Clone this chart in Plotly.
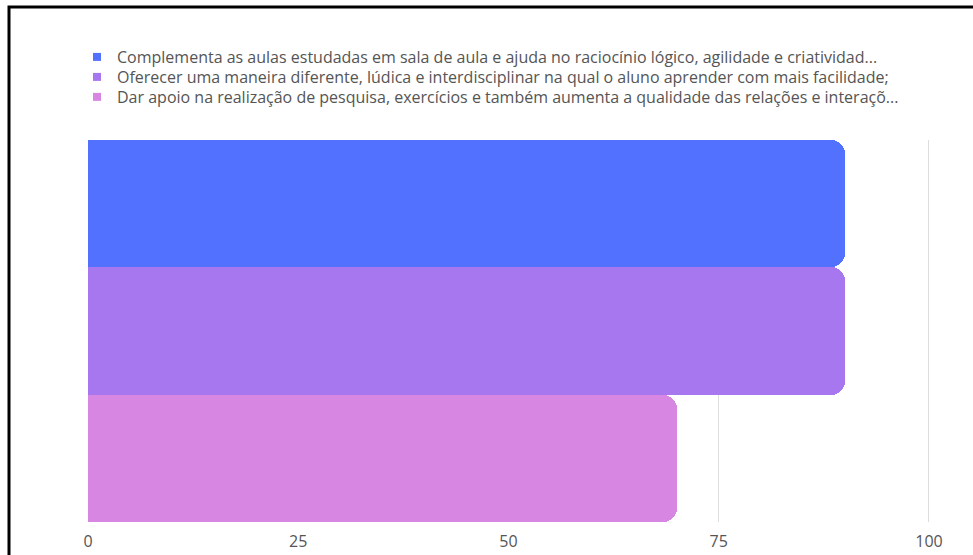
import plotly.graph_objects as go

# Respostas e percentuais
categorias = [
    "Complementa as aulas estudadas em sala de aula e ajuda no raciocínio lógico, agilidade e criatividad...",
    "Oferecer uma maneira diferente, lúdica e interdisciplinar na qual o aluno aprender com mais facilidade;",
    "Dar apoio na realização de pesquisa, exercícios e também aumenta a qualidade das relações e interaçõ...",
]
valores = [90, 90, 70]
cores = ["#5271FF", "#A777F0", "#D787E1"]
ticks = [0, 25, 50, 75, 100]

W, H = 973, 555
L, R, T, B = 88, 43, 140, 33
pw, ph = W - L - R, H - T - B

def px_x(p):
    return (p - L) / pw

def px_y(p):
    return (H - B - p) / ph

fig = go.Figure()
for nome, v, c in zip(categorias, valores, cores):
    fig.add_trace(go.Bar(
        x=[v], y=["r"], orientation="h", name=nome, showlegend=False,
        marker=dict(color=c, line=dict(width=0)),
    ))

# one legend per row, each with a small square swatch
legend_ids = ["legend", "legend2", "legend3"]
row_centers = [57, 77, 97]
legend_layout = {}
for nome, c, lid, yc in zip(categorias, cores, legend_ids, row_centers):
    fig.add_trace(go.Scatter(
        x=[None], y=[None], mode="markers", name=nome, legend=lid,
        marker=dict(symbol="square", size=8, color=c),
    ))
    legend_layout[lid] = dict(
        x=px_x(77), y=px_y(yc), xanchor="left", yanchor="middle",
        itemwidth=30, font=dict(size=16, color="#555555"),
        bgcolor="rgba(0,0,0,0)",
    )

fig.update_layout(
    width=W, height=H,
    margin=dict(l=L, r=R, t=T, b=B),
    paper_bgcolor="white", plot_bgcolor="white",
    barmode="group", bargap=0, bargroupgap=0,
    barcornerradius=14,
    font=dict(family="Open Sans", color="#555555", size=16),
    showlegend=True,
    xaxis=dict(
        range=[0, 100.12], tickvals=ticks, ticktext=[str(t) for t in ticks],
        showgrid=True, gridcolor="#DDDDDD", gridwidth=1,
        zeroline=False, showline=False, ticks="",
        ticklabelstandoff=8, automargin=False,
        tickfont=dict(size=16, color="#555555"),
        fixedrange=True,
    ),
    yaxis=dict(
        type="category", categoryorder="array", categoryarray=["r"],
        autorange="reversed", showticklabels=False, showgrid=False,
        zeroline=False, showline=False, automargin=False,
    ),
    shapes=[dict(
        type="rect", xref="paper", yref="paper",
        x0=px_x(9), x1=px_x(990), y0=px_y(7), y1=px_y(580),
        line=dict(color="black", width=3), fillcolor="rgba(0,0,0,0)",
        layer="above",
    )],
    **legend_layout,
)

fig.write_html("out.html")
